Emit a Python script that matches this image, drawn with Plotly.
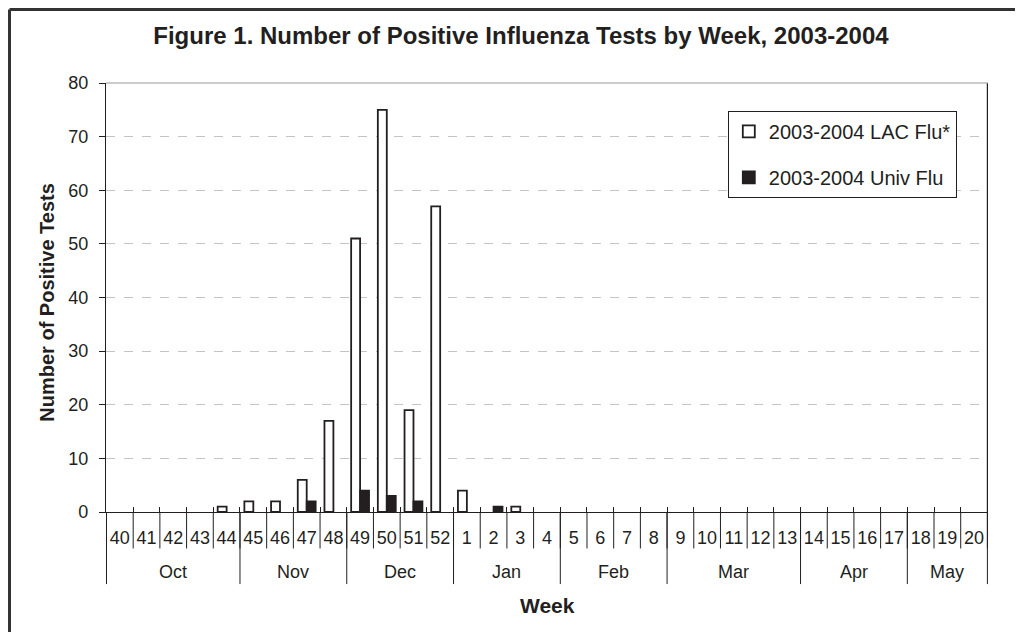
import plotly.graph_objects as go

# week labels along the category axis (Oct 2003 -> May 2004)
weeks = [str(w) for w in range(40, 53)] + [str(w) for w in range(1, 21)]
lac_flu = [0, 0, 0, 0, 1, 2, 2, 6, 17, 51, 75, 19, 57, 4, 0, 1, 0,
           0, 0, 0, 0, 0, 0, 0, 0, 0, 0, 0, 0, 0, 0, 0, 0]
univ_flu = [0, 0, 0, 0, 0, 0, 0, 2, 0, 4, 3, 2, 0, 0, 1, 0, 0,
            0, 0, 0, 0, 0, 0, 0, 0, 0, 0, 0, 0, 0, 0, 0, 0]
months = ["Oct", "Nov", "Dec", "Jan", "Feb", "Mar", "Apr", "May"]
month_weeks = [5, 4, 4, 4, 4, 5, 4, 3]

FONT = "Liberation Sans, Arial, sans-serif"
INK = "#231f20"


def nz(vals):
    # zero weeks drawn as no bar at all (no outline on the axis)
    return [v if v else None for v in vals]


fig = go.Figure()
fig.add_trace(go.Bar(x=weeks, y=nz(lac_flu), name="2003-2004 LAC Flu*", legendgroup="a",
                     marker=dict(color="white", line=dict(color=INK, width=1.8))))
fig.add_trace(go.Bar(x=weeks, y=nz(univ_flu), name="2003-2004 Univ Flu", legendgroup="b",
                     marker=dict(color=INK, line=dict(color=INK, width=1.8))))

shapes = []
# week separators below the axis
for i in range(len(weeks) + 1):
    shapes.append(dict(type="line", xref="x", yref="paper", x0=i - 0.5, x1=i - 0.5,
                       y0=0, y1=-0.085, line=dict(color=INK, width=1)))
# month separators and month labels
annotations = []
start = 0
bounds = [0]
for m, n in zip(months, month_weeks):
    annotations.append(dict(text=m, x=start + (n - 1) / 2, xref="x", y=-0.14, yref="paper",
                            xanchor="center", yanchor="middle", showarrow=False,
                            font=dict(size=18, color=INK, family=FONT)))
    start += n
    bounds.append(start)
for b in bounds:
    shapes.append(dict(type="line", xref="x", yref="paper", x0=b - 0.5, x1=b - 0.5,
                       y0=0, y1=-0.168, line=dict(color=INK, width=1)))
# right edge of plot and top line
shapes.append(dict(type="line", xref="x", yref="paper", x0=len(weeks) - 0.5, x1=len(weeks) - 0.5,
                   y0=0, y1=1, line=dict(color=INK, width=1.2)))
shapes.append(dict(type="line", xref="paper", yref="paper", x0=0, x1=1, y0=1, y1=1,
                   line=dict(color="#9a9a9a", width=1.2)))
# frame around figure (left and top visible)
shapes.append(dict(type="line", xref="paper", yref="paper", x0=-0.1094, x1=-0.1094, y0=1.1713, y1=-0.3,
                   line=dict(color="#333333", width=3)))
shapes.append(dict(type="line", xref="paper", yref="paper", x0=-0.1094, x1=1.05, y0=1.1713, y1=1.1713,
                   line=dict(color="#333333", width=3)))

annotations.append(dict(text="<b>Week</b>", x=0.5, xref="paper", y=-0.219, yref="paper",
                        xanchor="center", yanchor="middle", showarrow=False,
                        font=dict(size=21, color=INK, family=FONT)))
annotations.append(dict(text="<b>Number of Positive Tests</b>", x=-0.067, xref="paper", y=0.49,
                        yref="paper", xanchor="center", yanchor="middle", textangle=-90,
                        showarrow=False, font=dict(size=20, color=INK, family=FONT)))

fig.update_layout(
    width=1015, height=624,
    margin=dict(l=98, r=35, t=75, b=120),
    paper_bgcolor="white", plot_bgcolor="white",
    font=dict(family=FONT, size=18, color=INK),
    title=dict(text="<b>Figure 1. Number of Positive Influenza Tests by Week, 2003-2004</b>",
               x=0.5054, xanchor="center", y=0.955, yanchor="middle",
               font=dict(size=24, color=INK, family=FONT)),
    barmode="group", bargap=0.33, bargroupgap=0,
    showlegend=True,
    legend=dict(x=0.705, y=0.935, xanchor="left", yanchor="top",
                bgcolor="white", bordercolor=INK, borderwidth=1,
                traceorder="grouped", tracegroupgap=17,
                font=dict(size=20, color=INK, family=FONT)),
    shapes=shapes, annotations=annotations,
)
fig.update_xaxes(type="category", tickson="boundaries", ticks="inside", ticklen=5,
                 tickcolor=INK, showline=True, linecolor=INK, linewidth=1.2, tickangle=0,
                 showgrid=False, tickfont=dict(size=18), ticklabelstandoff=9)
fig.update_yaxes(range=[0, 80], dtick=10, ticks="outside", ticklen=6, tickcolor=INK,
                 showline=True, linecolor=INK, linewidth=1.2,
                 showgrid=True, gridcolor="#c4c4c4", griddash="dash", gridwidth=1,
                 zeroline=False, tickfont=dict(size=18), ticklabelstandoff=7)

fig.write_html("out.html")
